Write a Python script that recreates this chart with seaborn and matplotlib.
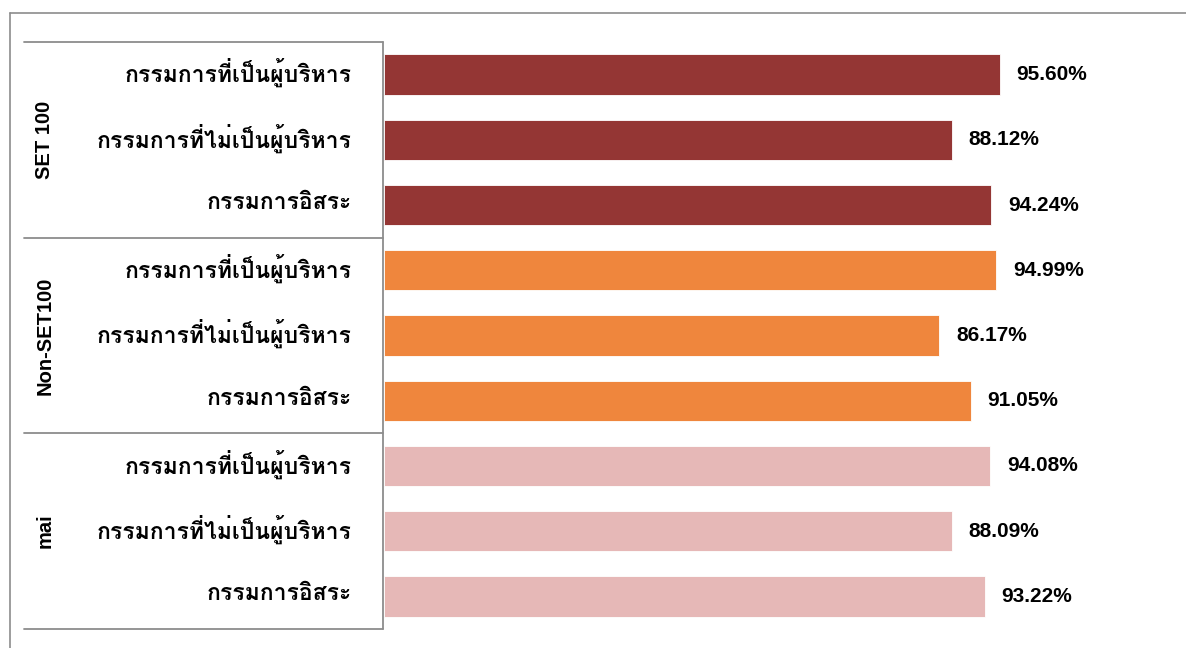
import matplotlib
matplotlib.use("Agg")
import matplotlib.pyplot as plt
from matplotlib import font_manager
from matplotlib.lines import Line2D
import matplotlib.transforms as mtrans
import seaborn as sns
import pandas as pd

# ---- data ----
groups = ["SET 100", "SET 100", "SET 100",
          "Non-SET100", "Non-SET100", "Non-SET100",
          "mai", "mai", "mai"]
categories = ["กรรมการที่เป็นผู้บริหาร", "กรรมการที่ไม่เป็นผู้บริหาร", "กรรมการอิสระ"] * 3
values = [95.60, 88.12, 94.24, 94.99, 86.17, 91.05, 94.08, 88.09, 93.22]
group_names = ["SET 100", "Non-SET100", "mai"]
group_colors = ["#943634", "#EF863D", "#E6B8B7"]


def find_thai_family():
    try:
        from fontTools.ttLib import TTFont
    except Exception:
        return None
    found = []
    for f in font_manager.fontManager.ttflist:
        try:
            tt = TTFont(f.fname, fontNumber=0, lazy=True)
            cmap = tt.getBestCmap() or {}
            if 0x0E01 in cmap and 0x0E34 in cmap:
                found.append(f)
        except Exception:
            pass
    if not found:
        return None
    found.sort(key=lambda f: (0 if str(f.weight) in ("bold", "700") else 1))
    return found[0].name


sns.set_theme(style="white")
thai = find_thai_family()
plt.rcParams["font.family"] = ([thai] if thai else []) + ["Liberation Sans", "DejaVu Sans"]

W, H = 1186, 648
fig = plt.figure(figsize=(W / 100, H / 100), dpi=100)
x0, x1 = 384, 1180
y0, y1 = 42, 629
px_per_unit = 6.444
ax = fig.add_axes([x0 / W, 1 - y1 / H, (x1 - x0) / W, (y1 - y0) / H])

df = pd.DataFrame({
    "row": [str(i) for i in range(len(values))],
    "group": groups,
    "category": categories,
    "value": values,
})
sns.barplot(data=df, x="value", y="row", hue="group", hue_order=group_names,
            palette=group_colors, saturation=1, dodge=False, width=0.62,
            orient="h", edgecolor="white", linewidth=0.6, legend=False, ax=ax)
ax.set_xlim(0, (x1 - x0) / px_per_unit)
ax.set_ylim(len(values) - 0.5, -0.5)
for s in ax.spines.values():
    s.set_visible(False)
ax.set_xticks([])
ax.set_yticks([])
ax.set_xlabel("")
ax.set_ylabel("")

for cont in ax.containers:
    ax.bar_label(cont, labels=[f"{v.get_width():.2f}%" for v in cont],
                 padding=12, fontsize=15, fontweight="bold",
                 family=["Liberation Sans", "DejaVu Sans"], color="black")

# category labels
trans = mtrans.blended_transform_factory(fig.transFigure, ax.transData)
for i, c in enumerate(categories):
    ax.text(352 / W, i - 0.03, c, transform=trans, ha="right", va="center",
            fontsize=16.5, fontweight="bold", color="black")

# group labels
for gi, g in enumerate(group_names):
    ax.text(45 / W, 3 * gi + 1, g, transform=trans, ha="center", va="center",
            rotation=90, fontsize=14.5, fontweight="bold",
            family=["Liberation Sans", "DejaVu Sans"], color="black")

# table lines
lc = "#8C8C8C"
for yy in [42, 238, 433, 629]:
    fig.add_artist(Line2D([24 / W, 383 / W], [1 - yy / H, 1 - yy / H],
                          color=lc, lw=1.3, transform=fig.transFigure))
fig.add_artist(Line2D([383 / W, 383 / W], [1 - 42 / H, 1 - 629 / H],
                      color=lc, lw=1.3, transform=fig.transFigure))
# outer chart border
fig.add_artist(Line2D([10 / W, 1.0], [1 - 13 / H, 1 - 13 / H],
                      color=lc, lw=1.2, transform=fig.transFigure))
fig.add_artist(Line2D([10 / W, 10 / W], [1 - 13 / H, 0],
                      color=lc, lw=1.2, transform=fig.transFigure))

fig.savefig("out.png", dpi=100, facecolor="white")
